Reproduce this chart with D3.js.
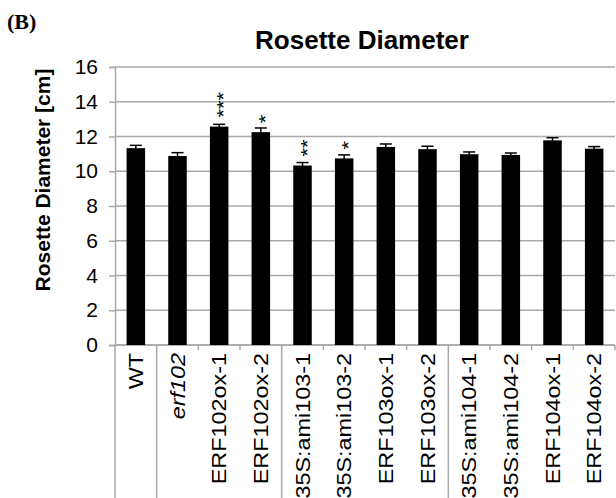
<!DOCTYPE html>
<html>
<head>
<meta charset="utf-8">
<script src="https://cdn.jsdelivr.net/npm/d3@7"></script>
<style>
  body { margin: 0; background: #fff; }
  svg { display: block; }
  text { font-family: "Liberation Sans", Arial, sans-serif; }
</style>
</head>
<body>
<svg id="chart" width="616" height="498"></svg>
<script>
const categories = ["WT", "erf102", "ERF102ox-1", "ERF102ox-2", "35S:ami103-1", "35S:ami103-2",
  "ERF103ox-1", "ERF103ox-2", "35S:ami104-1", "35S:ami104-2", "ERF104ox-1", "ERF104ox-2"];
const values = [11.33, 10.88, 12.57, 12.25, 10.33, 10.74, 11.40, 11.27, 10.98, 10.94, 11.78, 11.30];
const errors = [0.16, 0.19, 0.13, 0.24, 0.17, 0.20, 0.17, 0.17, 0.13, 0.11, 0.15, 0.12];
const stars = ["", "", "***", "*", "**", "*", "", "", "", "", "", ""];
const italicCats = ["erf102"];
const groupBreaks = [0, 1, 4, 8];
const yTicks = [0, 2, 4, 6, 8, 10, 12, 14, 16];

const svg = d3.select("#chart");
const L = 115, R = 615, T = 67, B = 345;
const grid = "#a9a9a9";

const x = d3.scaleBand().domain(categories).range([L, R]).paddingInner(0.556).paddingOuter(0.278);
const xb = d3.scaleLinear().domain([0, categories.length]).range([L, R]);
const y = d3.scaleLinear().domain([0, 16]).range([B, T]);

// gridlines
svg.append("g").selectAll("line").data(yTicks).join("line")
  .attr("x1", L).attr("x2", R).attr("y1", d => y(d)).attr("y2", d => y(d))
  .attr("stroke", grid).attr("stroke-width", 1.5);

// y axis
const yAxis = d3.axisLeft(y).tickValues(yTicks).tickSize(6).tickPadding(11).tickFormat(d3.format("d"));
const ya = svg.append("g").attr("transform", `translate(${L},0)`).call(yAxis);
ya.select(".domain").attr("stroke", grid).attr("stroke-width", 1.5);
ya.selectAll(".tick line").attr("stroke", grid).attr("stroke-width", 1.5);
ya.selectAll(".tick text").attr("font-size", 21).attr("fill", "#000")
  .attr("font-family", "Liberation Sans, Arial, sans-serif");

// x axis baseline and ticks
svg.append("line").attr("x1", L).attr("x2", R).attr("y1", B).attr("y2", B)
  .attr("stroke", grid).attr("stroke-width", 1.5);
svg.append("g").selectAll("line").data(d3.range(categories.length + 1)).join("line")
  .attr("x1", d => xb(d)).attr("x2", d => xb(d))
  .attr("y1", B).attr("y2", d => groupBreaks.includes(d) ? 498 : B + 5)
  .attr("stroke", grid).attr("stroke-width", 1.5);

// bars
svg.append("g").selectAll("rect").data(categories).join("rect")
  .attr("x", d => x(d)).attr("width", x.bandwidth())
  .attr("y", (d, i) => y(values[i])).attr("height", (d, i) => B - y(values[i]))
  .attr("fill", "#000");

// error bars
const eb = svg.append("g").attr("stroke", "#000").attr("stroke-width", 1.5);
categories.forEach((c, i) => {
  const cx = x(c) + x.bandwidth() / 2;
  eb.append("line").attr("x1", cx).attr("x2", cx)
    .attr("y1", y(values[i] - errors[i])).attr("y2", y(values[i] + errors[i]));
  eb.append("line").attr("x1", cx - 6).attr("x2", cx + 6)
    .attr("y1", y(values[i] + errors[i])).attr("y2", y(values[i] + errors[i]));
});

// significance stars (rotated labels)
svg.append("g").selectAll("text").data(categories).join("text")
  .attr("transform", (d, i) => `translate(${x(d) + x.bandwidth() / 2},${y(values[i]) - 9}) rotate(-90) scale(1.15,1)`)
  .attr("dy", "0.58em").attr("text-anchor", "start").attr("font-size", 19)
  .text((d, i) => stars[i]);

// category labels
svg.append("g").selectAll("text").data(categories).join("text")
  .attr("transform", d => `translate(${x(d) + x.bandwidth() / 2},353) rotate(-90) scale(1.2,1)`)
  .attr("dy", "0.36em").attr("text-anchor", "end").attr("font-size", 19.5)
  .attr("font-style", d => italicCats.includes(d) ? "italic" : "normal")
  .text(d => d);

// title
svg.append("text").attr("x", 362).attr("y", 49).attr("text-anchor", "middle")
  .attr("font-size", 26).attr("font-weight", "bold").text("Rosette Diameter");

// y axis title
svg.append("text").attr("transform", `translate(50,180) rotate(-90)`)
  .attr("text-anchor", "middle").attr("font-size", 21).attr("font-weight", "bold")
  .text("Rosette Diameter [cm]");

// panel label
svg.append("text").attr("x", 7).attr("y", 29).attr("font-size", 22).attr("font-weight", "bold")
  .style("font-family", "'Liberation Serif', 'Times New Roman', serif").text("(B)");
</script>
</body>
</html>
